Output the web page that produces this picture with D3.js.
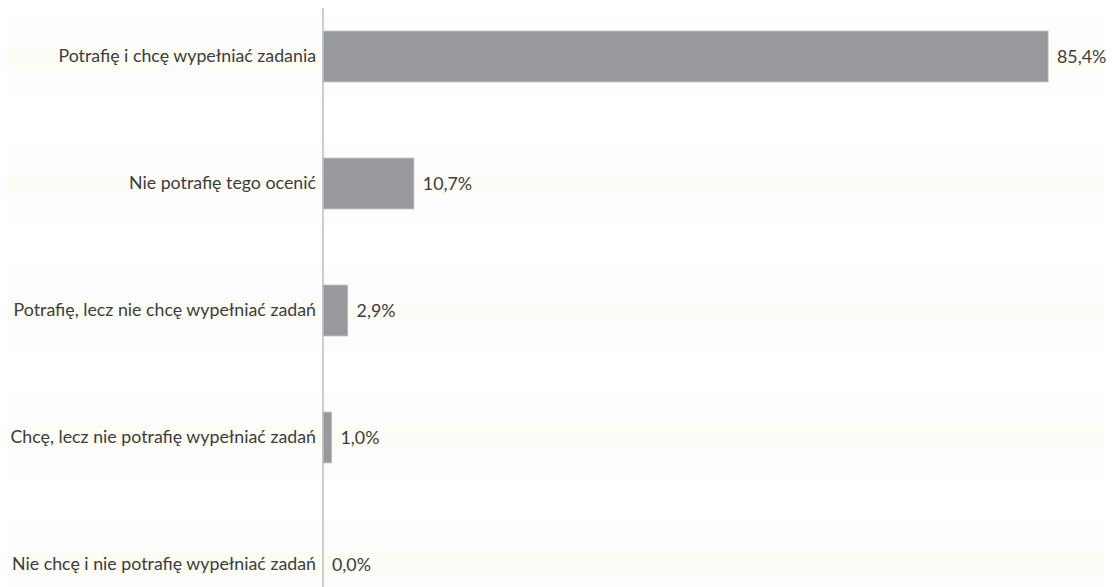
<!DOCTYPE html>
<html>
<head>
<meta charset="utf-8">
<script src="https://cdn.jsdelivr.net/npm/d3@7"></script>
<style>
  html, body { margin: 0; padding: 0; background: #ffffff; }
  svg { display: block; }
  text { font-family: Lato, "Open Sans", sans-serif; fill: #3c3c3c; }
</style>
</head>
<body>
<svg id="chart" width="1116" height="587"></svg>
<script>
// Survey answers and their shares (%)
const categories = [
  "Potrafię i chcę wypełniać zadania",
  "Nie potrafię tego ocenić",
  "Potrafię, lecz nie chcę wypełniać zadań",
  "Chcę, lecz nie potrafię wypełniać zadań",
  "Nie chcę i nie potrafię wypełniać zadań"
];
const values = [85.4, 10.7, 2.9, 1.0, 0.0];
const valueLabels = ["85,4%", "10,7%", "2,9%", "1,0%", "0,0%"];

const width = 1116, height = 587;
const fontSize = 17.8;
const svg = d3.select("#chart");

const x = d3.scaleLinear().domain([0, 100]).range([323, 1172]);
const y = d3.scaleBand()
  .domain(categories)
  .range([-7, 628])
  .paddingInner(0.6)
  .paddingOuter(0.3);

// faint row banding behind each category
const bands = svg.append("g");
categories.forEach(c => {
  const cy = y(c) + y.bandwidth() / 2;
  bands.append("rect")
    .attr("x", 7).attr("width", 1097)
    .attr("y", cy - 42).attr("height", 84)
    .attr("fill", "#fdfdfd");
  bands.append("rect")
    .attr("x", 7).attr("width", 1097)
    .attr("y", cy - 12).attr("height", 26)
    .attr("fill", "#fdfcf7");
});

// bars
svg.append("g").selectAll("rect")
  .data(categories)
  .join("rect")
  .attr("x", x(0))
  .attr("y", d => y(d))
  .attr("width", (d, i) => x(values[i]) - x(0))
  .attr("height", y.bandwidth())
  .attr("fill", "#97999c")
  .attr("stroke", "#b4b6b8")
  .attr("stroke-width", 0.8);

// category axis
const axis = d3.axisLeft(y).tickSize(0).tickPadding(7);
const gAxis = svg.append("g")
  .attr("transform", `translate(${x(0)},0)`)
  .call(axis);
gAxis.select(".domain").remove();
gAxis.selectAll("text")
  .attr("font-size", fontSize)
  .attr("font-family", "Lato, 'Open Sans', sans-serif")
  .attr("fill", "#3c3c3c");

svg.append("line")
  .attr("x1", x(0)).attr("x2", x(0))
  .attr("y1", 8).attr("y2", height)
  .attr("stroke", "#bcbcbc")
  .attr("stroke-width", 1.5);

// value labels
svg.append("g").selectAll("text")
  .data(categories)
  .join("text")
  .attr("x", (d, i) => x(values[i]) + 9)
  .attr("y", d => y(d) + y.bandwidth() / 2)
  .attr("dy", "0.35em")
  .attr("font-size", fontSize)
  .text((d, i) => valueLabels[i]);
</script>
</body>
</html>
